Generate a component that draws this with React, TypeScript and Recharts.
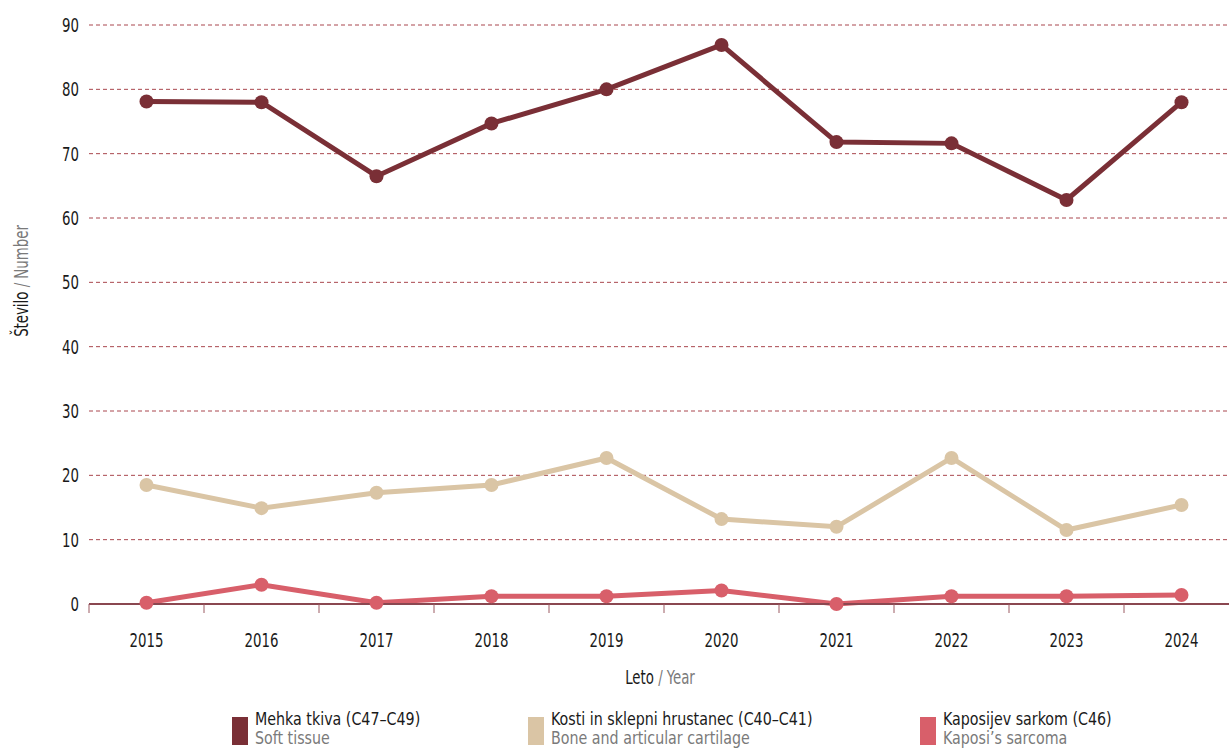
import { LineChart, Line, XAxis, YAxis, CartesianGrid, Label } from 'recharts';

const years = ['2015', '2016', '2017', '2018', '2019', '2020', '2021', '2022', '2023', '2024'];
const softTissue = [78.1, 78.0, 66.5, 74.7, 80.0, 86.9, 71.8, 71.6, 62.8, 78.0];
const boneCartilage = [18.5, 14.9, 17.3, 18.5, 22.7, 13.2, 12.0, 22.7, 11.5, 15.4];
const kaposi = [0.2, 3.0, 0.2, 1.2, 1.2, 2.1, 0.0, 1.2, 1.2, 1.4];
const yTicks = [0, 10, 20, 30, 40, 50, 60, 70, 80, 90];

const series = [
  { key: 'soft', name: 'Mehka tkiva (C47–C49)', en: 'Soft tissue', color: '#7a2f36', values: softTissue },
  { key: 'bone', name: 'Kosti in sklepni hrustanec (C40–C41)', en: 'Bone and articular cartilage', color: '#dac5a5', values: boneCartilage },
  { key: 'kaposi', name: 'Kaposijev sarkom (C46)', en: 'Kaposi’s sarcoma', color: '#d85f6a', values: kaposi },
];

const chartData = years.map((year, i) => ({
  year,
  soft: softTissue[i],
  bone: boneCartilage[i],
  kaposi: kaposi[i],
}));

const FONT = '"DejaVu Sans Condensed", "DejaVu Sans", sans-serif';
const SQUEEZE = 0.78;
const CHART_W = 1240;
const CHART_H = 749;
const LEFT = 89;
const RIGHT = 1;
const band = (CHART_W - LEFT - RIGHT) / years.length;

// narrow text: the reference uses a condensed face we don't have
function NarrowText({ x, y, anchor = 'middle', rotate = 0, size = 19, weight = 500, children }: any) {
  return (
    <g transform={`translate(${x},${y}) rotate(${rotate}) scale(${SQUEEZE},1)`}>
      <text x={0} y={0} textAnchor={anchor} fontSize={size} fontWeight={weight} fontFamily={FONT} fill="#1a1a1a">
        {children}
      </text>
    </g>
  );
}

function YearTick(props: any) {
  const { x, y, payload } = props;
  return (
    <g>
      <line x1={x - band / 2} x2={x - band / 2} y1={y} y2={y + 9} stroke="#9b5a62" strokeWidth={1} />
      <NarrowText x={x} y={y + 43}>{payload.value}</NarrowText>
    </g>
  );
}

function ValueTick(props: any) {
  const { y, payload } = props;
  return <NarrowText x={79} y={y + 7} anchor="end">{payload.value}</NarrowText>;
}

export default function App() {
  const legendX = [232, 528, 920];
  return (
    <div style={{ position: 'fixed', left: 0, top: 0, width: 1229, height: 749, overflow: 'hidden', background: '#fff' }}>
      <LineChart
        width={CHART_W}
        height={CHART_H}
        data={chartData}
        margin={{ top: 25, right: RIGHT, left: 0, bottom: 0 }}
      >
        <CartesianGrid horizontal vertical={false} stroke="#a9464e" strokeDasharray="4 3" />
        <XAxis
          dataKey="year"
          height={145}
          padding={{ left: band / 2, right: band / 2 }}
          axisLine={{ stroke: '#8a4750', strokeWidth: 2 }}
          tickLine={false}
          tickSize={0}
          tickMargin={0}
          tick={<YearTick />}
          interval={0}
        >
          <Label
            content={() => (
              <NarrowText x={660} y={684}>
                <tspan fill="#1a1a1a">Leto</tspan>
                <tspan fill="#7a7a7a" fontWeight={400}> / Year</tspan>
              </NarrowText>
            )}
          />
        </XAxis>
        <YAxis
          width={LEFT}
          domain={[0, 90]}
          ticks={yTicks}
          axisLine={false}
          tickLine={false}
          tick={<ValueTick />}
        >
          <Label
            content={() => (
              <NarrowText x={28} y={281} rotate={-90}>
                <tspan fill="#1a1a1a">Število</tspan>
                <tspan fill="#7a7a7a" fontWeight={400}> / Number</tspan>
              </NarrowText>
            )}
          />
        </YAxis>
        {series.map((s) => (
          <Line
            key={s.key}
            dataKey={s.key}
            stroke={s.color}
            strokeWidth={5}
            dot={{ r: 7, fill: s.color, stroke: 'none' }}
            activeDot={false}
            isAnimationActive={false}
          />
        ))}
      </LineChart>
      {series.map((s, i) => (
        <div
          key={s.key}
          style={{ position: 'absolute', left: legendX[i], top: 709, display: 'flex', alignItems: 'flex-start', fontFamily: FONT }}
        >
          <div style={{ width: 16, height: 28, background: s.color, marginTop: 8, marginRight: 7, flexShrink: 0 }} />
          <div style={{ lineHeight: '19px', fontSize: 18, transform: 'scaleX(0.88)', transformOrigin: 'left top', whiteSpace: 'nowrap' }}>
            <div style={{ color: '#1a1a1a' }}>{s.name}</div>
            <div style={{ color: '#7a7a7a' }}>{s.en}</div>
          </div>
        </div>
      ))}
    </div>
  );
}
